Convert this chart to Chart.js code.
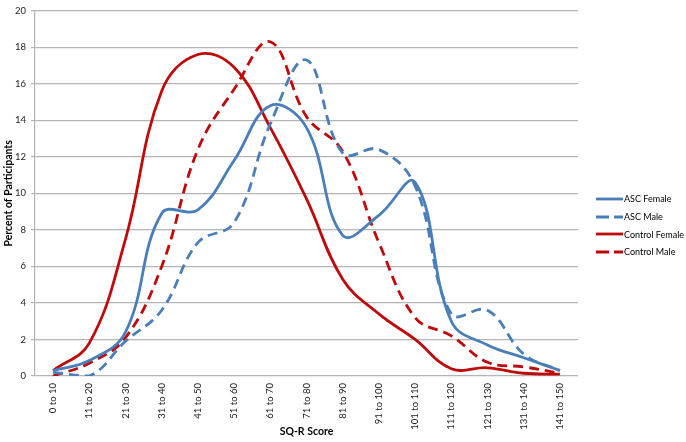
<!DOCTYPE html>
<html>
<head>
<meta charset="utf-8">
<script src="https://cdn.jsdelivr.net/npm/chart.js@4/dist/chart.umd.min.js"></script>
<style>
  html, body { margin: 0; padding: 0; background: #fff; }
  #wrap { position: relative; width: 686px; height: 442px; }
  canvas { position: absolute; left: 0; top: 0; }
  #legend { position: absolute; left: 596px; top: 190px; font-family: Lato, "Liberation Sans", sans-serif; font-size: 9px; color: #000; }
  .item { display: flex; align-items: center; height: 17.7px; }
  .item svg { display: block; margin-right: 1px; }
</style>
</head>
<body>
<div id="wrap">
  <canvas id="c" width="686" height="442"></canvas>
  <div id="legend"></div>
</div>
<script>
const categories = ['0 to 10','11 to 20','21 to 30','31 to 40','41 to 50','51 to 60','61 to 70','71 to 80','81 to 90','91 to 100','101 to 110','111 to 120','121 to 130','131 to 140','141 to 150'];
const ascFemale     = [0.3, 0.85, 2.4, 8.9, 9.1, 11.8, 14.8, 13.6, 7.7, 8.8, 10.6, 3.0, 1.7, 1.0, 0.3];
const ascMale       = [0.2, 0.0, 1.9, 3.6, 7.3, 8.4, 13.8, 17.3, 12.2, 12.4, 10.4, 3.4, 3.6, 1.2, 0.3];
const controlFemale = [0.3, 1.8, 7.5, 15.6, 17.6, 16.9, 13.6, 9.7, 5.3, 3.4, 2.0, 0.4, 0.45, 0.15, 0.1];
const controlMale   = [0.0, 0.7, 2.1, 6.0, 12.4, 15.7, 18.3, 14.2, 12.3, 7.3, 3.2, 2.2, 0.75, 0.5, 0.15];
const yTicks = [0, 2, 4, 6, 8, 10, 12, 14, 16, 18, 20];
const seriesNames = ['ASC Female', 'ASC Male', 'Control Female', 'Control Male'];

const BLUE = '#4A7EBB';
const RED = '#BE0A0A';
const DASH = [10, 6];
const FONT = 'Lato, "Liberation Sans", sans-serif';

const styles = [
  { color: BLUE, dash: [] },
  { color: BLUE, dash: DASH },
  { color: RED, dash: [] },
  { color: RED, dash: DASH }
];
const values = [ascFemale, ascMale, controlFemale, controlMale];

const datasets = seriesNames.map((name, i) => ({
  label: name,
  data: values[i],
  borderColor: styles[i].color,
  backgroundColor: styles[i].color,
  borderWidth: 2.8,
  borderDash: styles[i].dash,
  borderCapStyle: 'butt',
  pointRadius: 0,
  pointHoverRadius: 0,
  tension: 0.4,
  fill: false
}));

new Chart(document.getElementById('c'), {
  type: 'line',
  data: { labels: categories, datasets },
  options: {
    responsive: false,
    animation: false,
    devicePixelRatio: 1,
    layout: { padding: { top: 6, right: 108, bottom: 0, left: 0 } },
    plugins: { legend: { display: false }, tooltip: { enabled: false } },
    scales: {
      x: {
        type: 'category',
        offset: true,
        grid: { display: false, drawTicks: false },
        border: { display: false },
        ticks: {
          autoSkip: false, maxRotation: 90, minRotation: 90, padding: 7,
          color: '#222', font: { family: FONT, size: 9.5 }
        },
        title: {
          display: true, text: 'SQ-R Score', color: '#000',
          font: { family: FONT, size: 10.5, weight: 'bold' },
          padding: { top: 0, bottom: 4 }
        },
        afterFit(scale) { scale.height = 66; }
      },
      y: {
        min: 0, max: 20,
        afterBuildTicks(scale) { scale.ticks = yTicks.map(v => ({ value: v })); },
        grid: { color: '#B4B4B4', lineWidth: 1.2, tickLength: 4, drawTicks: true },
        border: { display: true, color: '#B4B4B4', width: 1.2 },
        ticks: { padding: 5, color: '#222', font: { family: FONT, size: 9.5 } },
        title: {
          display: true, text: 'Percent of Participants', color: '#000',
          font: { family: FONT, size: 10.5, weight: 'bold' },
          padding: { top: 2, bottom: 0 }
        },
        afterFit(scale) { scale.width = 35; }
      }
    }
  }
});

const legend = document.getElementById('legend');
seriesNames.forEach((name, i) => {
  const row = document.createElement('div');
  row.className = 'item';
  const dash = styles[i].dash.length ? 'stroke-dasharray="13,5"' : '';
  row.innerHTML = '<svg width="27" height="6"><line x1="0" y1="3" x2="27" y2="3" stroke="' + styles[i].color + '" stroke-width="2.8" ' + dash + '/></svg><span>' + name + '</span>';
  legend.appendChild(row);
});
</script>
</body>
</html>
